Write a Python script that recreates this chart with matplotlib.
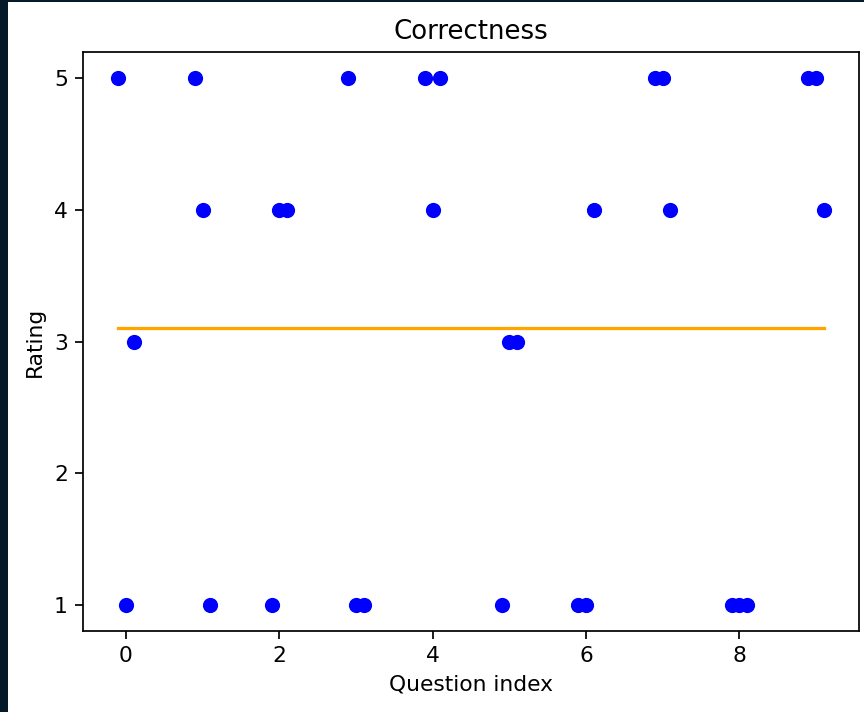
import numpy as np
import matplotlib
matplotlib.use('Agg')
import matplotlib.pyplot as plt
from matplotlib.patches import Rectangle

# ratings per question, three raters offset around the question index
question_idx = list(range(10))
rater_a = [5, 5, 1, 5, 5, 1, 1, 5, 1, 5]
rater_b = [1, 4, 4, 1, 4, 3, 1, 5, 1, 5]
rater_c = [3, 1, 4, 1, 5, 3, 4, 4, 1, 4]
offsets = [-0.1, 0.0, 0.1]
rating_ticks = [1, 2, 3, 4, 5]

DPI = 156.25
fig = plt.figure(figsize=(864 / DPI, 712 / DPI), dpi=DPI)

# dark frame around the screenshot
fig.patches.append(Rectangle((0, 0), 1, 1, transform=fig.transFigure,
                             facecolor='#041a28', edgecolor='none', zorder=-10))
fig.patches.append(Rectangle((8 / 864, 0), 1, 1 - 2 / 712, transform=fig.transFigure,
                             facecolor='white', edgecolor='none', zorder=-9))

ax = fig.add_axes([83 / 864, 1 - 631 / 712, (859 - 83) / 864, (631 - 52) / 712])

all_x = []
all_y = []
for off, ratings in zip(offsets, [rater_a, rater_b, rater_c]):
    xs = np.array(question_idx) + off
    ax.plot(xs, ratings, 'o', color='blue')
    all_x.extend(xs)
    all_y.extend(ratings)

mean_rating = np.mean(all_y)
ax.plot([min(all_x), max(all_x)], [mean_rating, mean_rating], color='orange')

ax.set_yticks(rating_ticks)
ax.set_title('Correctness')
ax.set_xlabel('Question index')
ax.set_ylabel('Rating')

fig.savefig('out.png', dpi=DPI)
